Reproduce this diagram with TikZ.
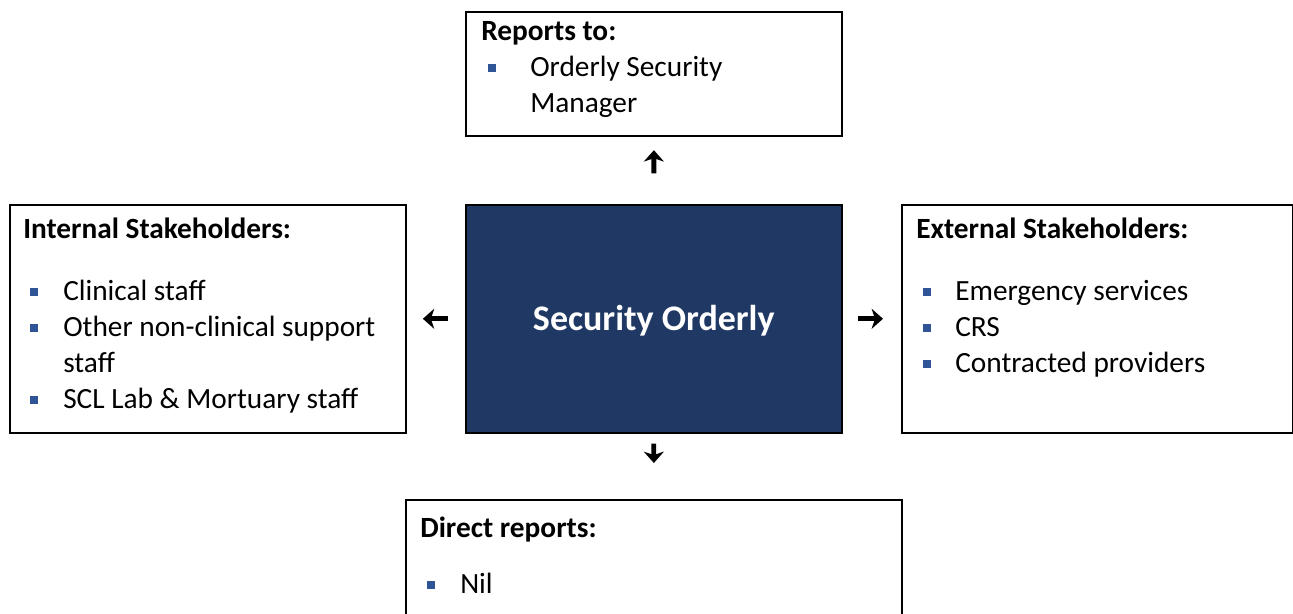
\documentclass[tikz,border=0pt]{standalone}
\usepackage{fontspec}
\setmainfont{Carlito}
\usetikzlibrary{arrows.meta}

\definecolor{navy}{RGB}{32,56,100}
\definecolor{bulblue}{RGB}{47,85,151}

% bullet item: optional arg is the distance from bullet start to text
\newcommand{\itm}[2][30pt]{\hspace*{5pt}\makebox[\dimexpr#1-5pt\relax][l]{\textcolor{bulblue}{\rule[3.4pt]{5.8pt}{5.8pt}}}#2}

\tikzset{
  panel/.style={draw, line width=1.4pt, rectangle, anchor=north west, inner sep=0pt},
  core/.style={panel, fill=navy, draw=black, line width=1.2pt},
  words/.style={anchor=north west, inner sep=0pt, align=left,
    font=\fontsize{22}{27}\selectfont},
  link/.style={line width=3.6pt, -{Stealth[length=8.5pt,width=15pt,inset=2.5pt]}}
}

\begin{document}
\begin{tikzpicture}[x=0.75pt,y=-0.75pt]
        \useasboundingbox (0,0) rectangle (1293,614);

        \node (so)  [core,  minimum width=282pt, minimum height=171pt] at (465,204) {};
        \node (rep) [panel, minimum width=282pt, minimum height=93pt]  at (465,11)  {};
        \node (int) [panel, minimum width=297pt, minimum height=171pt] at (9,204)   {};
        \node (ext) [panel, minimum width=293pt, minimum height=171pt] at (901,204) {};
        \node (dir) [panel, minimum width=372pt, minimum height=100pt] at (405,499) {};

        \node (so-t) [font=\fontsize{27}{32}\selectfont\bfseries, text=white]
          at ([yshift=-1.5pt]so.center) {Security Orderly};

        \node (rep-t) [words] at ([shift={(16,4)}]rep.north west)
          {\strut\textbf{Reports to:}\\
           \itm[36.75pt]{Orderly Security}\\
           \hspace*{36.75pt}Manager};

        \node (int-t) [words] at ([shift={(14,9)}]int.north west)
          {\strut\textbf{Internal Stakeholders:}\\[19.5pt]
           \itm{Clinical staff}\\
           \itm{Other non-clinical support}\\
           \hspace*{30pt}staff\\
           \itm{SCL Lab \& Mortuary staff}};

        \node (ext-t) [words] at ([shift={(15,9)}]ext.north west)
          {\strut\textbf{External Stakeholders:}\\[19.5pt]
           \itm[29.25pt]{Emergency services}\\
           \itm[29.25pt]{CRS}\\
           \itm[29.25pt]{Contracted providers}};

        \node (dir-t) [words] at ([shift={(15,13)}]dir.north west)
          {\strut\textbf{Direct reports:}\\[15pt]
           \itm{Nil}};

        \draw [link, shorten <=23pt, shorten >=10pt] (so.north) -- (rep.south);
        \draw [link, shorten <=13pt, shorten >=12pt] (so.west) -- (so.west -| int.east);
        \draw [link, shorten <=11.5pt, shorten >=13.5pt] (so.east) -- (so.east -| ext.west);
        \draw [link, shorten <=7.5pt, shorten >=27pt] (so.south) -- (dir.north);
      \end{tikzpicture}
\end{document}
